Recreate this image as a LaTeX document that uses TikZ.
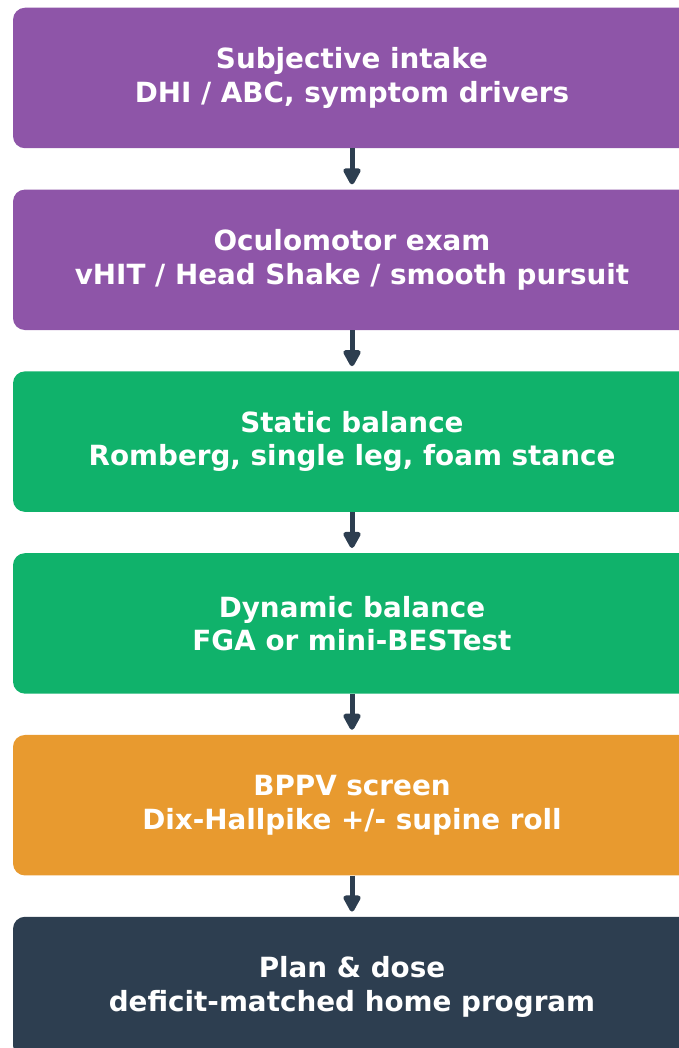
\documentclass[tikz,border=0pt]{standalone}
\usepackage{fontspec}
\setmainfont{DejaVu Sans}
\usetikzlibrary{arrows.meta}
\definecolor{cPurple}{HTML}{8E55A8}
\definecolor{cGreen}{HTML}{10B26B}
\definecolor{cOrange}{HTML}{E89A2F}
\definecolor{cDark}{HTML}{2D3E50}
\tikzset{
  stage/.style={rounded corners=12pt, minimum width=678pt, minimum height=140.5pt,
    inner sep=0pt, text=white, align=center,
    font=\fontsize{27.8pt}{33.4pt}\selectfont\bfseries},
  flow/.style={draw=cDark, line width=5pt, shorten >=5pt,
    -{Triangle[length=19pt,width=19pt,round]}}
}
\begin{document}
\begin{tikzpicture}[x=1pt,y=1pt]
\useasboundingbox (0,0) rectangle (679,-1048);
\clip (0,0) rectangle (679,-1048);
\node[stage, fill=cPurple] (s1) at (352,-78) {Subjective intake\\DHI / ABC, symptom drivers};
\node[stage, fill=cPurple] (s2) at (352,-259.8) {Oculomotor exam\\vHIT / Head Shake / smooth pursuit};
\node[stage, fill=cGreen]  (s3) at (352,-441.6) {Static balance\\Romberg, single leg, foam stance};
\node[stage, fill=cGreen]  (s4) at (352,-623.4) {Dynamic balance\\FGA or mini-BESTest};
\node[stage, fill=cOrange] (s5) at (352,-805.2) {BPPV screen\\Dix-Hallpike +/- supine roll};
\node[stage, fill=cDark]   (s6) at (352,-987.0) {Plan \& dose\\deficit-matched home program};
\draw[flow] (s1.south) -- (s2.north);
\draw[flow] (s2.south) -- (s3.north);
\draw[flow] (s3.south) -- (s4.north);
\draw[flow] (s4.south) -- (s5.north);
\draw[flow] (s5.south) -- (s6.north);
\end{tikzpicture}
\end{document}
